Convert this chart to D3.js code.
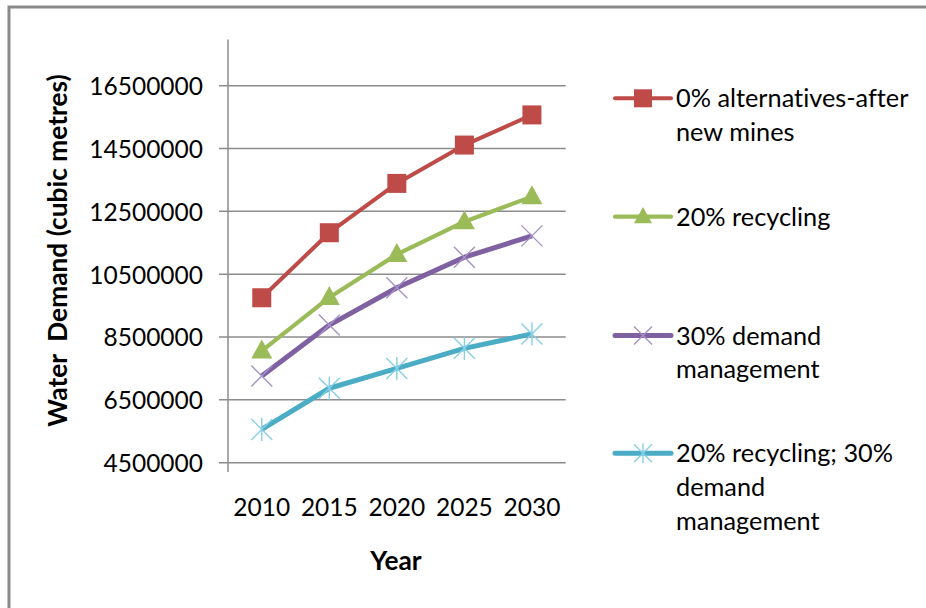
<!DOCTYPE html>
<html><head><meta charset="utf-8">
<script src="https://cdn.jsdelivr.net/npm/d3@7/dist/d3.min.js"></script>
<style>html,body{margin:0;padding:0;background:#fff;} svg{display:block;} text{font-variant-ligatures:none;font-feature-settings:"liga" 0;}</style>
</head><body>
<svg id="chart" width="926" height="608"></svg>
<script>
const years = ["2010", "2015", "2020", "2025", "2030"];
const yTicks = [4500000, 6500000, 8500000, 10500000, 12500000, 14500000, 16500000];
const seriesNames = [
  ["0% alternatives-after", "new mines"],
  ["20% recycling"],
  ["30% demand", "management"],
  ["20% recycling; 30%", "demand", "management"]
];
const noAlternatives = [9750000, 11820000, 13390000, 14610000, 15570000];
const recycling20 = [8060000, 9760000, 11130000, 12170000, 12970000];
const demandMgmt30 = [7260000, 8880000, 10070000, 11040000, 11720000];
const recyclingAndDemand = [5560000, 6870000, 7500000, 8140000, 8600000];

const seriesValues = [noAlternatives, recycling20, demandMgmt30, recyclingAndDemand];
const styles = [
  {color: "#BE4B48", width: 4, marker: "square"},
  {color: "#9BBB59", width: 4.2, marker: "triangle"},
  {color: "#7F60A1", width: 5, marker: "x", mcolor: "#A593C8"},
  {color: "#4BACC6", width: 5, marker: "star", mcolor: "#86D0E6"}
];

const FONT = "Lato, 'Open Sans', sans-serif";
const svg = d3.select("#chart");
svg.append("rect").attr("width", 926).attr("height", 608).attr("fill", "#fff");

// outer frame (left + top visible)
svg.append("path").attr("d", "M9,608 V7 H926").attr("fill", "none")
  .attr("stroke", "#8a8a8a").attr("stroke-width", 3);

const x = d3.scaleBand().domain(years).range([228, 565.7]);
const y = d3.scaleLinear().domain([4500000, 16500000]).range([462.7, 85.7]);

// gridlines
const g = svg.append("g");
g.selectAll("line.grid").data(yTicks).join("line")
  .attr("x1", 219).attr("x2", 565.7)
  .attr("y1", d => y(d)).attr("y2", d => y(d))
  .attr("stroke", "#8c8c8c").attr("stroke-width", 1.5);

// y axis line
g.append("line").attr("x1", 228).attr("x2", 228).attr("y1", 39.5).attr("y2", 472)
  .attr("stroke", "#8c8c8c").attr("stroke-width", 1.5);

// y tick labels
const yAxis = d3.axisLeft(y).tickValues(yTicks).tickSize(0).tickPadding(0).tickFormat(d3.format("d"));
const ya = svg.append("g").attr("transform", "translate(203,0)").call(yAxis);
ya.select(".domain").remove();
ya.selectAll("text").attr("font-family", FONT).attr("font-size", 24.5).attr("fill", "#000")
  .attr("x", 0).attr("dy", "0.36em");

// x tick labels
const xAxis = d3.axisBottom(x).tickSize(0).tickPadding(0);
const xa = svg.append("g").attr("transform", "translate(0,507)").call(xAxis);
xa.select(".domain").remove();
xa.selectAll("text").attr("font-family", FONT).attr("font-size", 24.5).attr("fill", "#000")
  .attr("y", 0).attr("dy", "0.36em");

// axis titles
svg.append("text").attr("transform", "translate(67,250.5) rotate(-90)")
  .attr("text-anchor", "middle").attr("font-family", FONT).attr("font-weight", "bold")
  .attr("font-size", 26.3).attr("fill", "#000").attr("xml:space", "preserve")
  .text("Water  Demand (cubic metres)");
svg.append("text").attr("x", 396).attr("y", 569.5).attr("text-anchor", "middle")
  .attr("font-family", FONT).attr("font-weight", "bold").attr("font-size", 26.3).attr("fill", "#000")
  .text("Year");

function drawMarker(sel, type, cx, cy, st, s) {
  if (type === "square") {
    sel.append("rect").attr("x", cx - s/2).attr("y", cy - s/2).attr("width", s).attr("height", s)
      .attr("fill", st.color);
  } else if (type === "triangle") {
    const h = s * 0.9;
    sel.append("path").attr("d", `M${cx},${cy - h*0.6} L${cx + s/2},${cy + h*0.4} L${cx - s/2},${cy + h*0.4} Z`)
      .attr("fill", st.color);
  } else if (type === "x") {
    const r = s/2;
    sel.append("path").attr("d", `M${cx-r},${cy-r} L${cx+r},${cy+r} M${cx-r},${cy+r} L${cx+r},${cy-r}`)
      .attr("stroke", st.mcolor).attr("stroke-width", 1.4).attr("fill", "none");
  } else if (type === "star") {
    const r = s/2;
    sel.append("path").attr("d", `M${cx-r},${cy-r} L${cx+r},${cy+r} M${cx-r},${cy+r} L${cx+r},${cy-r} M${cx},${cy-r*1.1} L${cx},${cy+r*1.1}`)
      .attr("stroke", st.mcolor).attr("stroke-width", 1.4).attr("fill", "none");
  }
}

const line = d3.line().x((d, i) => x(years[i]) + x.bandwidth()/2).y(d => y(d));
seriesValues.forEach((vals, si) => {
  const st = styles[si];
  const sg = svg.append("g");
  sg.append("path").datum(vals).attr("d", line).attr("fill", "none")
    .attr("stroke", st.color).attr("stroke-width", st.width).attr("stroke-linejoin", "round");
  vals.forEach((v, i) => drawMarker(sg, st.marker, x(years[i]) + x.bandwidth()/2, y(v), st, st.marker === "square" ? 19 : 21));
});

// legend
const legendY = [98.3, 216.7, 335.5, 453.3];
seriesNames.forEach((lines, si) => {
  const st = styles[si];
  const lg = svg.append("g");
  const cy = legendY[si];
  lg.append("line").attr("x1", 615).attr("x2", 671).attr("y1", cy).attr("y2", cy)
    .attr("stroke", st.color).attr("stroke-width", st.width).attr("stroke-linecap", "round");
  drawMarker(lg, st.marker, 643, cy, st, 18);
  const t = lg.append("text").attr("font-family", FONT).attr("font-size", 25.3).attr("fill", "#000");
  lines.forEach((ln, li) => {
    t.append("tspan").attr("x", 676).attr("y", cy + li * 33.8).attr("dy", "0.36em").text(ln);
  });
});
</script>
</body></html>
